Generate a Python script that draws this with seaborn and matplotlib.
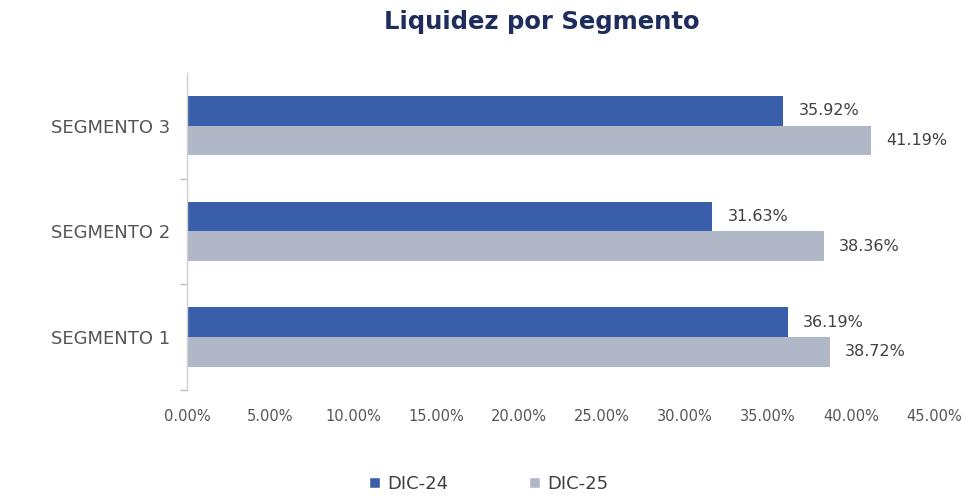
import matplotlib
matplotlib.use("Agg")
import matplotlib.pyplot as plt
import pandas as pd
import seaborn as sns
from matplotlib.patches import Patch

# Data
segments = ["SEGMENTO 3", "SEGMENTO 2", "SEGMENTO 1"]
dic24 = [35.92, 31.63, 36.19]
dic25 = [41.19, 38.36, 38.72]
series_names = ["DIC-24", "DIC-25"]
x_ticks = [0, 5, 10, 15, 20, 25, 30, 35, 40, 45]

colors = {"DIC-24": "#3A5FAA", "DIC-25": "#B0B8C7"}

df = pd.DataFrame({
    "segmento": segments * 2,
    "serie": [series_names[0]] * len(segments) + [series_names[1]] * len(segments),
    "valor": dic24 + dic25,
})

sns.set_style("white")
plt.rcParams["font.family"] = ["DejaVu Sans"]

fig = plt.figure(figsize=(9.68, 4.96), dpi=100)
ax = fig.add_axes([0.193, 0.214, 0.772, 0.639])

sns.barplot(
    data=df, y="segmento", x="valor", hue="serie", order=segments,
    hue_order=series_names, palette=colors, orient="h", width=0.56,
    ax=ax, legend=False, saturation=1, linewidth=0,
)

for cont in ax.containers:
    ax.bar_label(cont, labels=[f"{v:.2f}%" for v in cont.datavalues],
                 padding=11, fontsize=11.5, color="#404040")

ax.set_xlim(0, 45)
ax.set_ylim(2.5, -0.5)
ax.set_xticks(x_ticks)
ax.set_xticklabels([f"{t:.2f}%" for t in x_ticks], fontsize=10.5, color="#555555")
ax.tick_params(axis="x", length=0, pad=14)
ax.tick_params(axis="y", which="major", length=0, pad=12, labelsize=13, labelcolor="#555555")
ax.set_yticks([0.5, 1.5, 2.5], minor=True)
ax.tick_params(axis="y", which="minor", left=True, length=5, width=1,
               color="#BFBFBF", direction="out")
ax.set_xlabel("")
ax.set_ylabel("")

for side in ["top", "right", "bottom"]:
    ax.spines[side].set_visible(False)
ax.spines["left"].set_color("#D0D0D0")
ax.spines["left"].set_linewidth(1.0)

fig.text(0.56, 0.955, "Liquidez por Segmento", ha="center", va="center",
         fontsize=17.5, fontweight="bold", color="#1F2D5C")

handles = [Patch(facecolor=colors[s], label=s) for s in series_names]
fig.legend(handles=handles, loc="center", bbox_to_anchor=(0.505, 0.025), ncol=2,
           frameon=False, fontsize=13, handlelength=0.6, handleheight=0.6,
           columnspacing=4.5, handletextpad=0.4, labelcolor="#404040")

fig.savefig("out.png", dpi=100)
